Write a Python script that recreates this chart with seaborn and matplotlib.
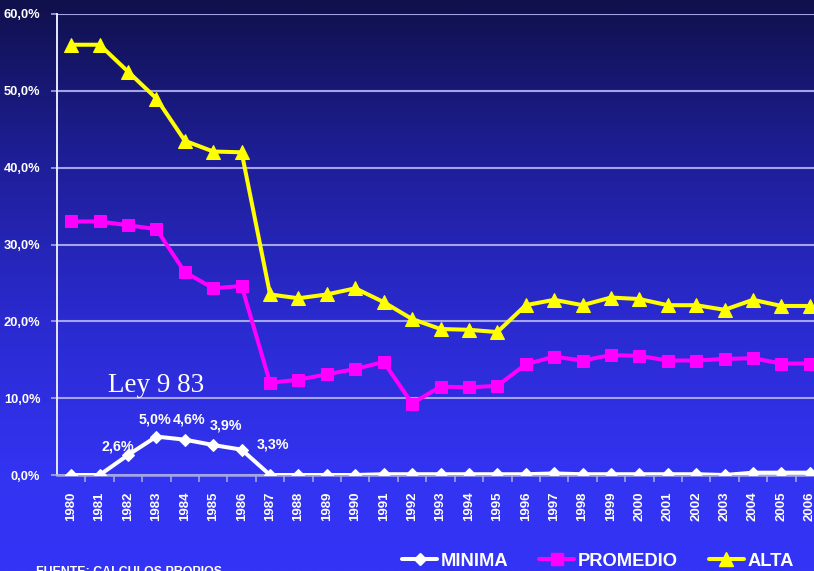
"""
    Tasa de arancel: minima, promedio y alta, 1980-2006.
"""

import numpy as np
import pandas as pd
import matplotlib
matplotlib.use("Agg")
import matplotlib.pyplot as plt
import matplotlib.lines as mlines
import matplotlib.ticker as mtick
from matplotlib.colors import LinearSegmentedColormap
import seaborn as sns

# Data (in %)
years = list(range(1980, 2007))

minima = [0.0, 0.0, 2.6, 5.0, 4.6, 3.9, 3.3, 0.0, 0.0, 0.0, 0.0, 0.1, 0.1, 0.1,
          0.1, 0.1, 0.1, 0.2, 0.1, 0.1, 0.1, 0.1, 0.1, 0.0, 0.3, 0.3, 0.3]

promedio = [33.0, 33.0, 32.5, 32.0, 26.4, 24.3, 24.6, 12.0, 12.4, 13.1, 13.8, 14.7,
            9.3, 11.5, 11.4, 11.6, 14.4, 15.4, 14.9, 15.6, 15.5, 14.9, 14.9, 15.1,
            15.2, 14.5, 14.5]

alta = [56.0, 56.0, 52.5, 49.0, 43.5, 42.1, 42.0, 23.5, 23.0, 23.5, 24.3, 22.5,
        20.3, 19.0, 18.9, 18.6, 22.1, 22.8, 22.1, 23.1, 22.9, 22.1, 22.1, 21.5,
        22.8, 22.0, 22.0]

series_names = ['MINIMA', 'PROMEDIO', 'ALTA']

# labelled minima points: year -> (label, offset in px)
label_years = [1982, 1983, 1984, 1985, 1986]
label_text = ['2,6%', '5,0%', '4,6%', '3,9%', '3,3%']
label_offsets = [(-10, 9), (-1, 17), (4, 20), (13, 20), (31, 5)]

y_ticks = [0, 10, 20, 30, 40, 50, 60]

# Styles
COLORS = {'MINIMA': '#FFFFFF', 'PROMEDIO': '#FF00FF', 'ALTA': '#FFFF00'}
MARKERS = {'MINIMA': 'D', 'PROMEDIO': 's', 'ALTA': '^'}
MSIZE = {'MINIMA': 6.6, 'PROMEDIO': 8.8, 'ALTA': 9.8}
GRID_COLOR = '#A4A4E6'
FONT = 'Liberation Sans'

sns.set_theme(style="white")
plt.rcParams['font.family'] = [FONT, 'DejaVu Sans']

df = pd.DataFrame({'year': years, 'MINIMA': minima,
                   'PROMEDIO': promedio, 'ALTA': alta})
df_long = df.melt(id_vars='year', var_name='serie', value_name='valor')

fig = plt.figure(figsize=(8.14, 5.71), dpi=100)

# gradient background (dark navy at top -> bright blue at bottom)
bg = fig.add_axes([0, 0, 1, 1], zorder=-10)
cmap = LinearSegmentedColormap.from_list(
    'bg', [(0.0, '#10104C'), (0.27, '#1E1E96'), (0.55, '#2A2ACE'),
           (0.83, '#3333F2'), (1.0, '#3434F6')])
grad = np.linspace(0, 1, 400).reshape(-1, 1)
bg.imshow(grad, aspect='auto', cmap=cmap, extent=[0, 1, 1, 0])
bg.axis('off')

W, H = 814, 571
ax = fig.add_axes([57 / W, 96 / H, 767 / W, 461 / H])
ax.set_facecolor('none')

for name in ['ALTA', 'PROMEDIO', 'MINIMA']:
    sub = df_long[df_long['serie'] == name]
    sns.lineplot(data=sub, x='year', y='valor', color=COLORS[name],
                 marker=MARKERS[name], markersize=MSIZE[name],
                 markeredgecolor=COLORS[name], linewidth=2.9,
                 ax=ax, legend=False, zorder=3)

ax.set_xlim(years[0] - 0.5, years[-1] + 0.5)
ax.set_ylim(0, 60)
ax.set_xlabel('')
ax.set_ylabel('')

ax.set_yticks(y_ticks)
ax.yaxis.set_major_formatter(mtick.FuncFormatter(lambda v, p: f"{v:.1f}%".replace('.', ',')))
ax.grid(axis='y', color=GRID_COLOR, linewidth=1.5, zorder=1)
ax.grid(axis='x', visible=False)

ax.set_xticks(years)
ax.set_xticklabels([str(y) for y in years], rotation=90)
ax.set_xticks([y + 0.5 for y in years[:-1]], minor=True)
ax.tick_params(axis='x', which='major', length=0, pad=12, labelsize=9.5,
               labelcolor='white')
ax.tick_params(axis='x', which='minor', length=5, width=1.2, color=GRID_COLOR,
               direction='out', bottom=True)
ax.tick_params(axis='y', length=4, width=1.2, color=GRID_COLOR, pad=8,
               labelsize=9.3, labelcolor='white', left=True)
for lab in ax.get_xticklabels() + ax.get_yticklabels():
    lab.set_fontweight('bold')

for side in ['top', 'right']:
    ax.spines[side].set_visible(False)
ax.spines['left'].set_color('#E8E8FF')
ax.spines['left'].set_linewidth(1.4)
ax.spines['bottom'].set_color(GRID_COLOR)
ax.spines['bottom'].set_linewidth(1.8)

# value labels on the minima series
for yr, txt, (dx, dy) in zip(label_years, label_text, label_offsets):
    val = minima[years.index(yr)]
    ax.annotate(txt, xy=(yr, val), xytext=(dx * 0.72, dy * 0.72),
                textcoords='offset points', ha='center', va='center',
                color='white', fontsize=10.3, fontweight='bold', zorder=5)

ax.text(1981.3, 10.8, 'Ley 9 83', family='Liberation Serif', fontsize=19.5,
        color='white', ha='left', va='baseline')

# legend
handles = []
for name in series_names:
    handles.append(mlines.Line2D([], [], color=COLORS[name], marker=MARKERS[name],
                                 markersize=MSIZE[name], markeredgecolor=COLORS[name],
                                 linewidth=2.9, label=name))
leg = fig.legend(handles=handles, loc='center', bbox_to_anchor=(598 / W, 10 / H),
                 ncol=3, frameon=False, handlelength=1.9, handletextpad=0.2,
                 columnspacing=1.7, borderaxespad=0, prop={'size': 13.2, 'weight': 'bold'})
for t in leg.get_texts():
    t.set_color('white')

fig.text(36 / W, 1 - 566 / H, 'FUENTE: CALCULOS PROPIOS', color='white',
         fontsize=8.9, fontweight='bold', ha='left', va='top')

fig.savefig('out.png', dpi=100)
